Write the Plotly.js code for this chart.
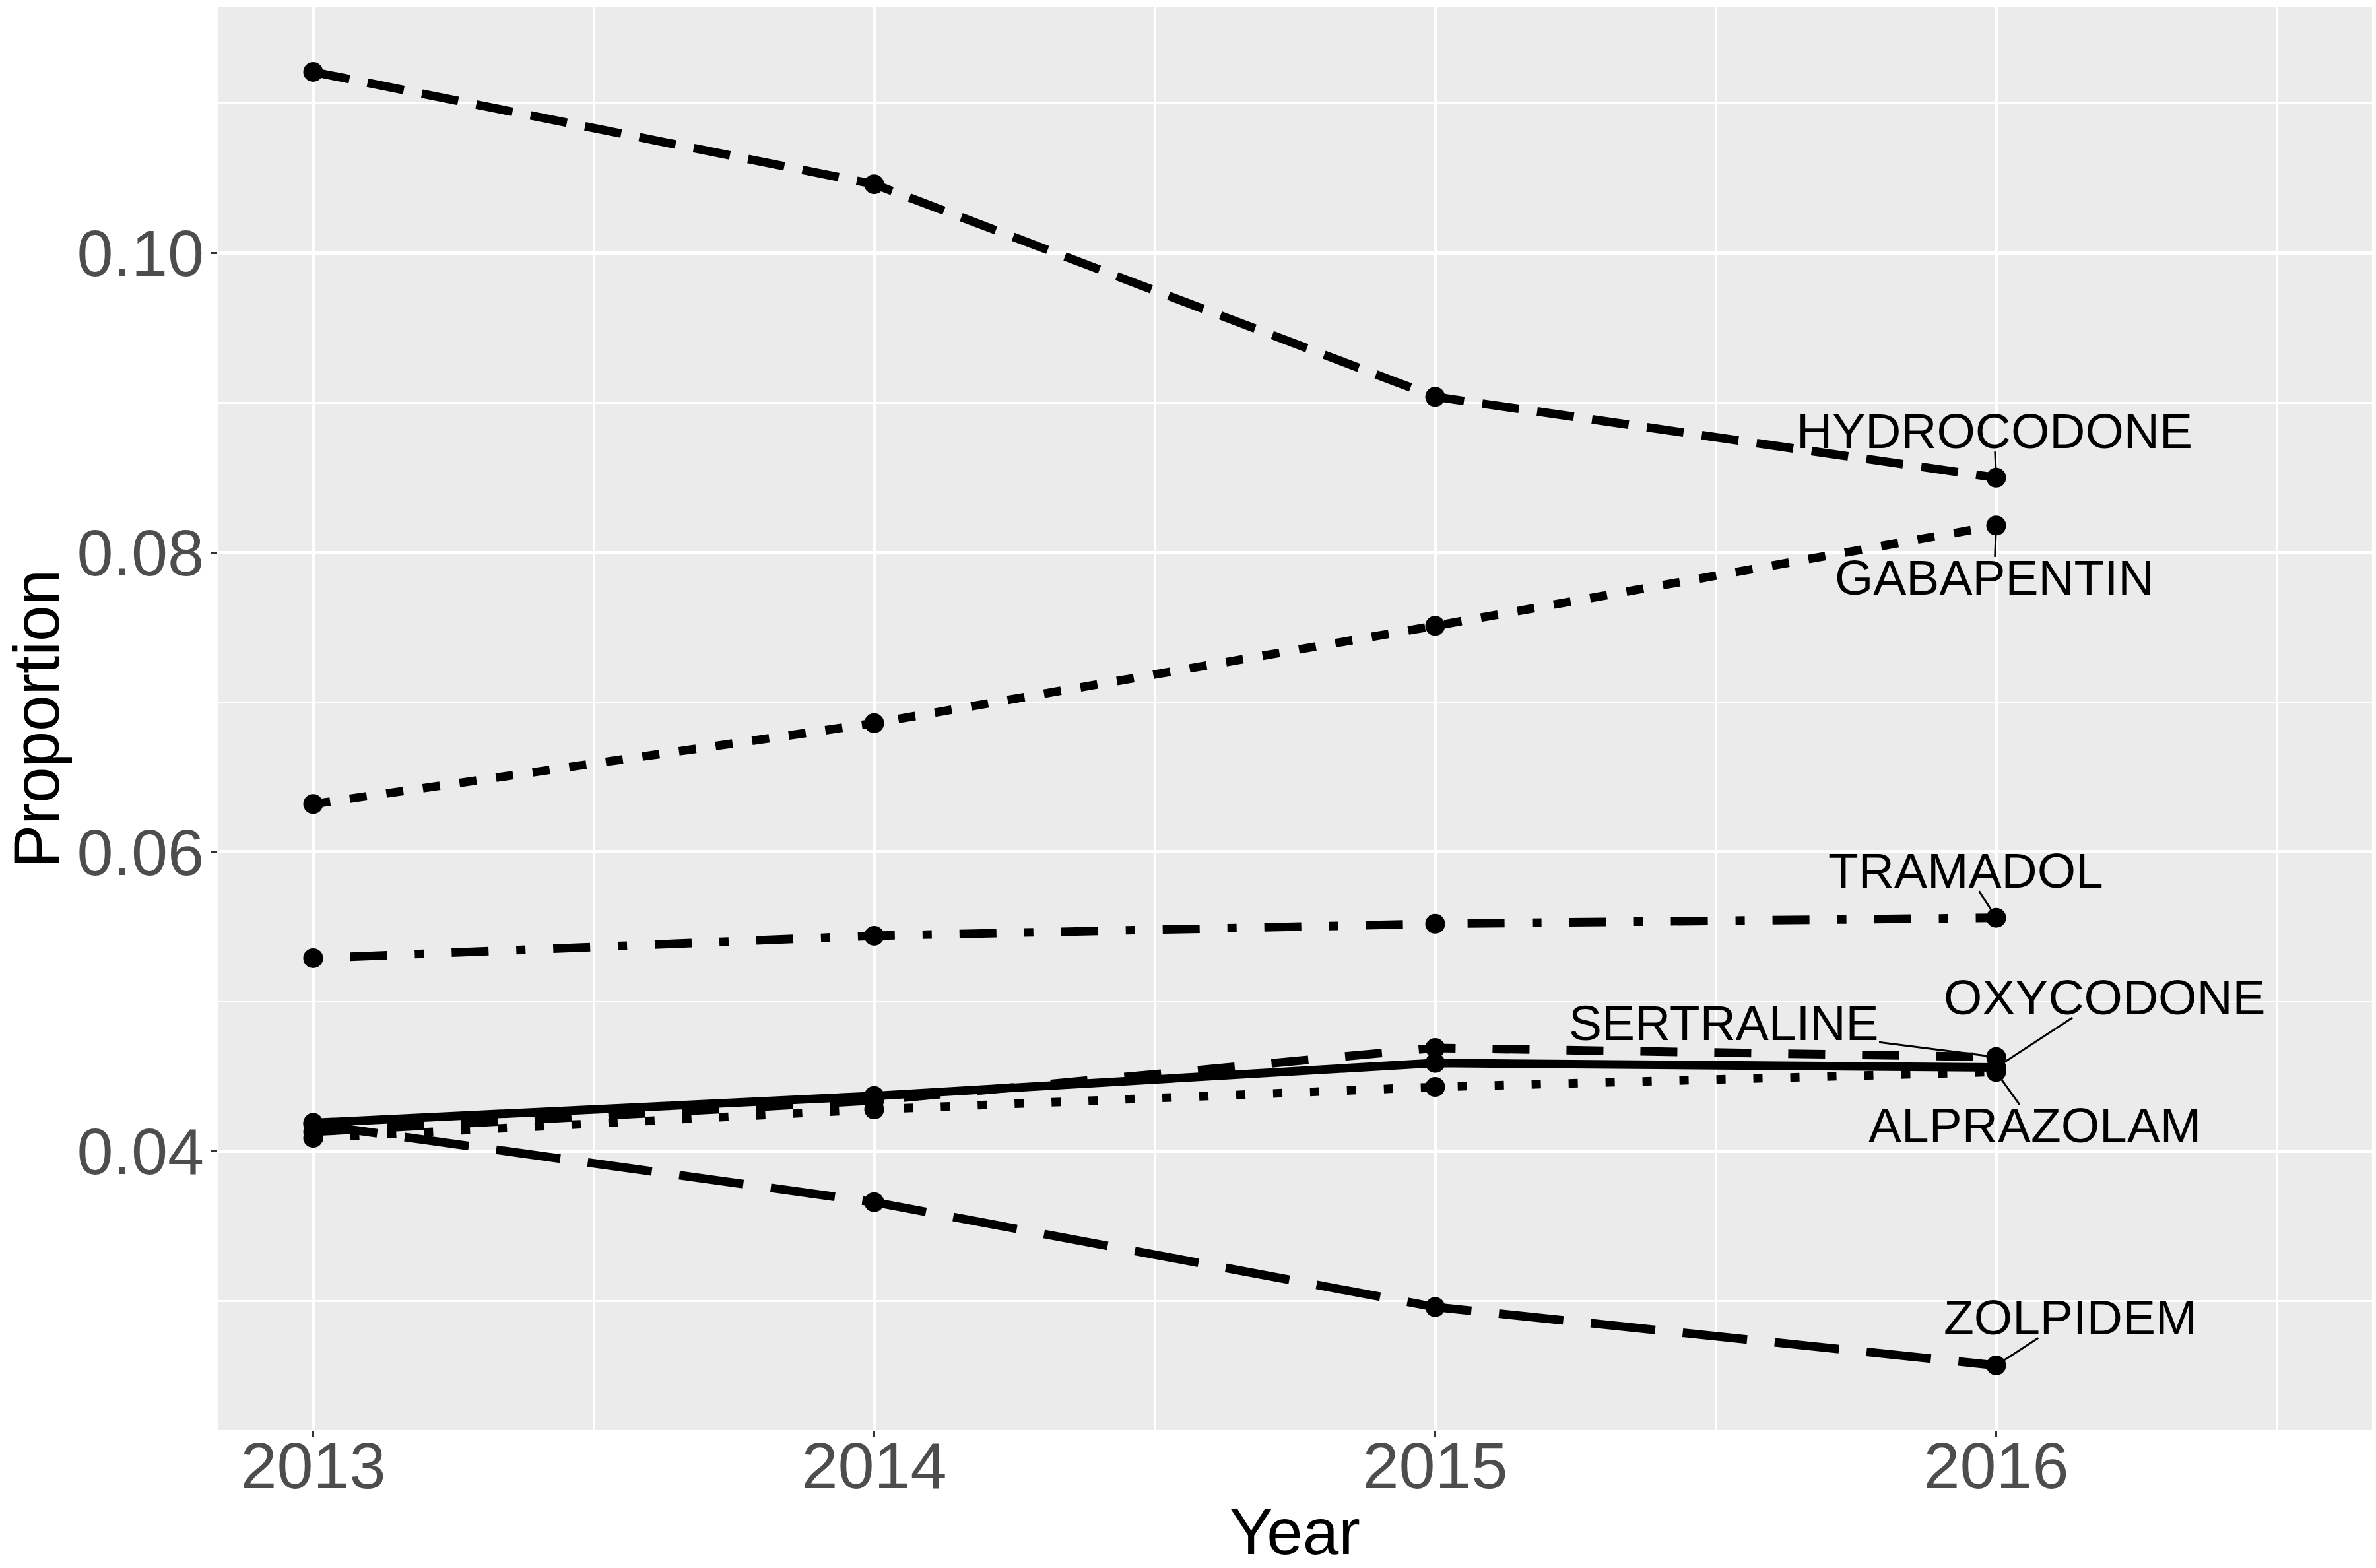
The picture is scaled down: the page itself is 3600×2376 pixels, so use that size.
<!DOCTYPE html>
<html>
<head>
<meta charset="utf-8">
<script src="https://cdn.plot.ly/plotly-3.0.1.min.js"></script>
<style>html,body{margin:0;padding:0;background:#fff;}#chart{width:3600px;height:2376px;}</style>
</head>
<body>
<div id="chart"></div>
<script>
// ---- data ----
const years = [2013, 2014, 2015, 2016];
const hydrocodone = [0.1121, 0.1046, 0.0904, 0.0850];
const gabapentin  = [0.0632, 0.0686, 0.0751, 0.0818];
const tramadol    = [0.0529, 0.0544, 0.0552, 0.0556];
const sertraline  = [0.0413, 0.0434, 0.0469, 0.0463];
const oxycodone   = [0.0419, 0.0437, 0.0459, 0.0456];
const alprazolam  = [0.0409, 0.0428, 0.0443, 0.0453];
const zolpidem    = [0.0418, 0.0366, 0.0296, 0.0257];
const drugNames = ["ALPRAZOLAM", "GABAPENTIN", "HYDROCODONE", "OXYCODONE", "SERTRALINE", "TRAMADOL", "ZOLPIDEM"];
const yTickVals = [0.04, 0.06, 0.08, 0.10];
const yTickText = ["0.04", "0.06", "0.08", "0.10"];
const xTickText = ["2013", "2014", "2015", "2016"];

// ---- styles (not data) ----
const seriesByName = {
  ALPRAZOLAM: alprazolam, GABAPENTIN: gabapentin, HYDROCODONE: hydrocodone,
  OXYCODONE: oxycodone, SERTRALINE: sertraline, TRAMADOL: tramadol, ZOLPIDEM: zolpidem
};
const dashByName = {
  ALPRAZOLAM: "14px,42px",
  GABAPENTIN: "26px,30px",
  HYDROCODONE: "56px,28px",
  OXYCODONE: "solid",
  SERTRALINE: "56px,56px",
  TRAMADOL: "14px,42px,56px,42px",
  ZOLPIDEM: "98px,42px"
};
const labelOffset = {
  HYDROCODONE: [-3, -71],
  GABAPENTIN: [-3, 79],
  TRAMADOL: [-46, -72],
  SERTRALINE: [-413, -52],
  OXYCODONE: [164, -107],
  ALPRAZOLAM: [58, 81],
  ZOLPIDEM: [112, -73]
};
const FONT = "Liberation Sans, Arial, Helvetica, sans-serif";
const LW = 13;

const traces = [];
drugNames.forEach(n => {
  traces.push({
    x: years, y: seriesByName[n], type: "scatter", mode: "lines", name: n,
    line: {color: "#000", width: LW, dash: dashByName[n]},
    hoverinfo: "skip", showlegend: false
  });
});
drugNames.forEach(n => {
  traces.push({
    x: years, y: seriesByName[n], type: "scatter", mode: "markers", name: n,
    marker: {color: "#000", size: 30, line: {width: 0}},
    showlegend: false
  });
});

const last = years.length - 1;
const annotations = drugNames.map(n => ({
  x: years[last], y: seriesByName[n][last], xref: "x", yref: "y",
  text: n, showarrow: true, arrowhead: 0, arrowwidth: 3, arrowcolor: "#000",
  ax: labelOffset[n][0], ay: labelOffset[n][1], standoff: 14,
  font: {family: FONT, size: 75, color: "#000"},
  borderpad: 0, height: 62
}));

const layout = {
  width: 3600, height: 2376,
  margin: {l: 330, r: 6, t: 11, b: 209},
  paper_bgcolor: "#fff", plot_bgcolor: "#EBEBEB",
  font: {family: FONT},
  showlegend: false,
  xaxis: {
    range: [2012.83, 2016.67],
    tickvals: years, ticktext: xTickText,
    ticks: "outside", ticklen: 10, tickwidth: 3, tickcolor: "#333",
    ticklabelstandoff: -42,
    tickfont: {family: FONT, size: 99, color: "#4D4D4D"},
    showgrid: true, gridcolor: "#fff", gridwidth: 5,
    minor: {tick0: 2012.5, dtick: 1, showgrid: true, gridcolor: "#fff", gridwidth: 2.5, ticks: ""},
    zeroline: false, showline: false,
    title: {text: "Year", font: {family: FONT, size: 98, color: "#000"}, standoff: 22}
  },
  yaxis: {
    range: [0.02138, 0.11642],
    tickvals: yTickVals, ticktext: yTickText,
    ticks: "outside", ticklen: 10, tickwidth: 3, tickcolor: "#333",
    ticklabelstandoff: -10,
    tickfont: {family: FONT, size: 99, color: "#4D4D4D"},
    showgrid: true, gridcolor: "#fff", gridwidth: 5,
    minor: {tick0: 0.01, dtick: 0.02, showgrid: true, gridcolor: "#fff", gridwidth: 2.5, ticks: ""},
    zeroline: false, showline: false,
    title: {text: "Proportion", font: {family: FONT, size: 98, color: "#000"}, standoff: 25}
  },
  annotations: annotations
};

Plotly.newPlot("chart", traces, layout, {staticPlot: true, displayModeBar: false});
</script>
</body>
</html>
